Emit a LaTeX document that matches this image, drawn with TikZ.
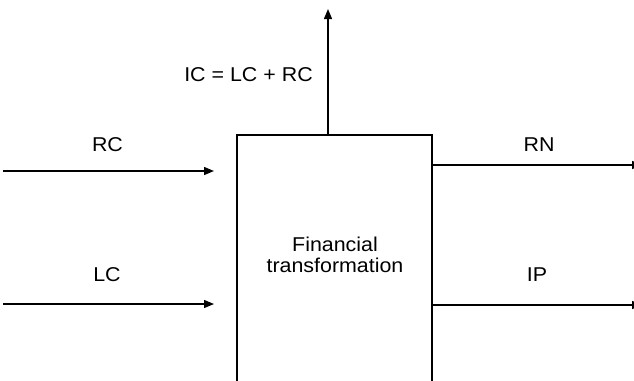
\documentclass[tikz,border=0pt]{standalone}
\usepackage{fontspec}
\setmainfont[FakeStretch=1.07]{Liberation Sans}
\usetikzlibrary{arrows.meta}
\begin{document}
\begin{tikzpicture}[x=1pt,y=-1pt,
  flow/.style={line width=1.3pt,-{Triangle[length=10pt,width=8pt]}},
  lbl/.style={inner sep=0pt,font=\fontsize{20}{21.5}\selectfont},
  block/.style={draw,line width=1.3pt,minimum width=195pt,minimum height=280pt,inner sep=0pt}]
\useasboundingbox (0,0) rectangle (634,380);
\clip (0,0) rectangle (634,380);
% process block (open towards the bottom edge)
\node[block] (ft) at (334.5,275) {};
\node[lbl,align=center] (ftl) at (335,255) {Financial\\transformation};
% inputs
\coordinate (rcs) at (3,171);
\coordinate (rce) at (214,171);
\coordinate (lcs) at (3,304);
\coordinate (lce) at (214,304);
\draw[flow] (rcs) -- (rce);
\draw[flow] (lcs) -- (lce);
% outputs
\coordinate (rnb) at (ft.east |- 0,165);
\coordinate (rne) at (642,165);
\coordinate (ipb) at (ft.east |- 0,305);
\coordinate (ipe) at (642,305);
\draw[flow] (rnb) -- (rne);
\draw[flow] (ipb) -- (ipe);
\coordinate (icb) at (328,0 |- ft.north);
\coordinate (ice) at (328,9);
\draw[flow] (icb) -- (ice);
% labels
\node[lbl] (ic) at (248.5,75) {IC = LC + RC};
\node[lbl] (rc) at (107.5,144.5) {RC};
\node[lbl] (lc) at (107,274.5) {LC};
\node[lbl] (rn) at (539,144.5) {RN};
\node[lbl] (ip) at (537,275) {IP};
\end{tikzpicture}
\end{document}
